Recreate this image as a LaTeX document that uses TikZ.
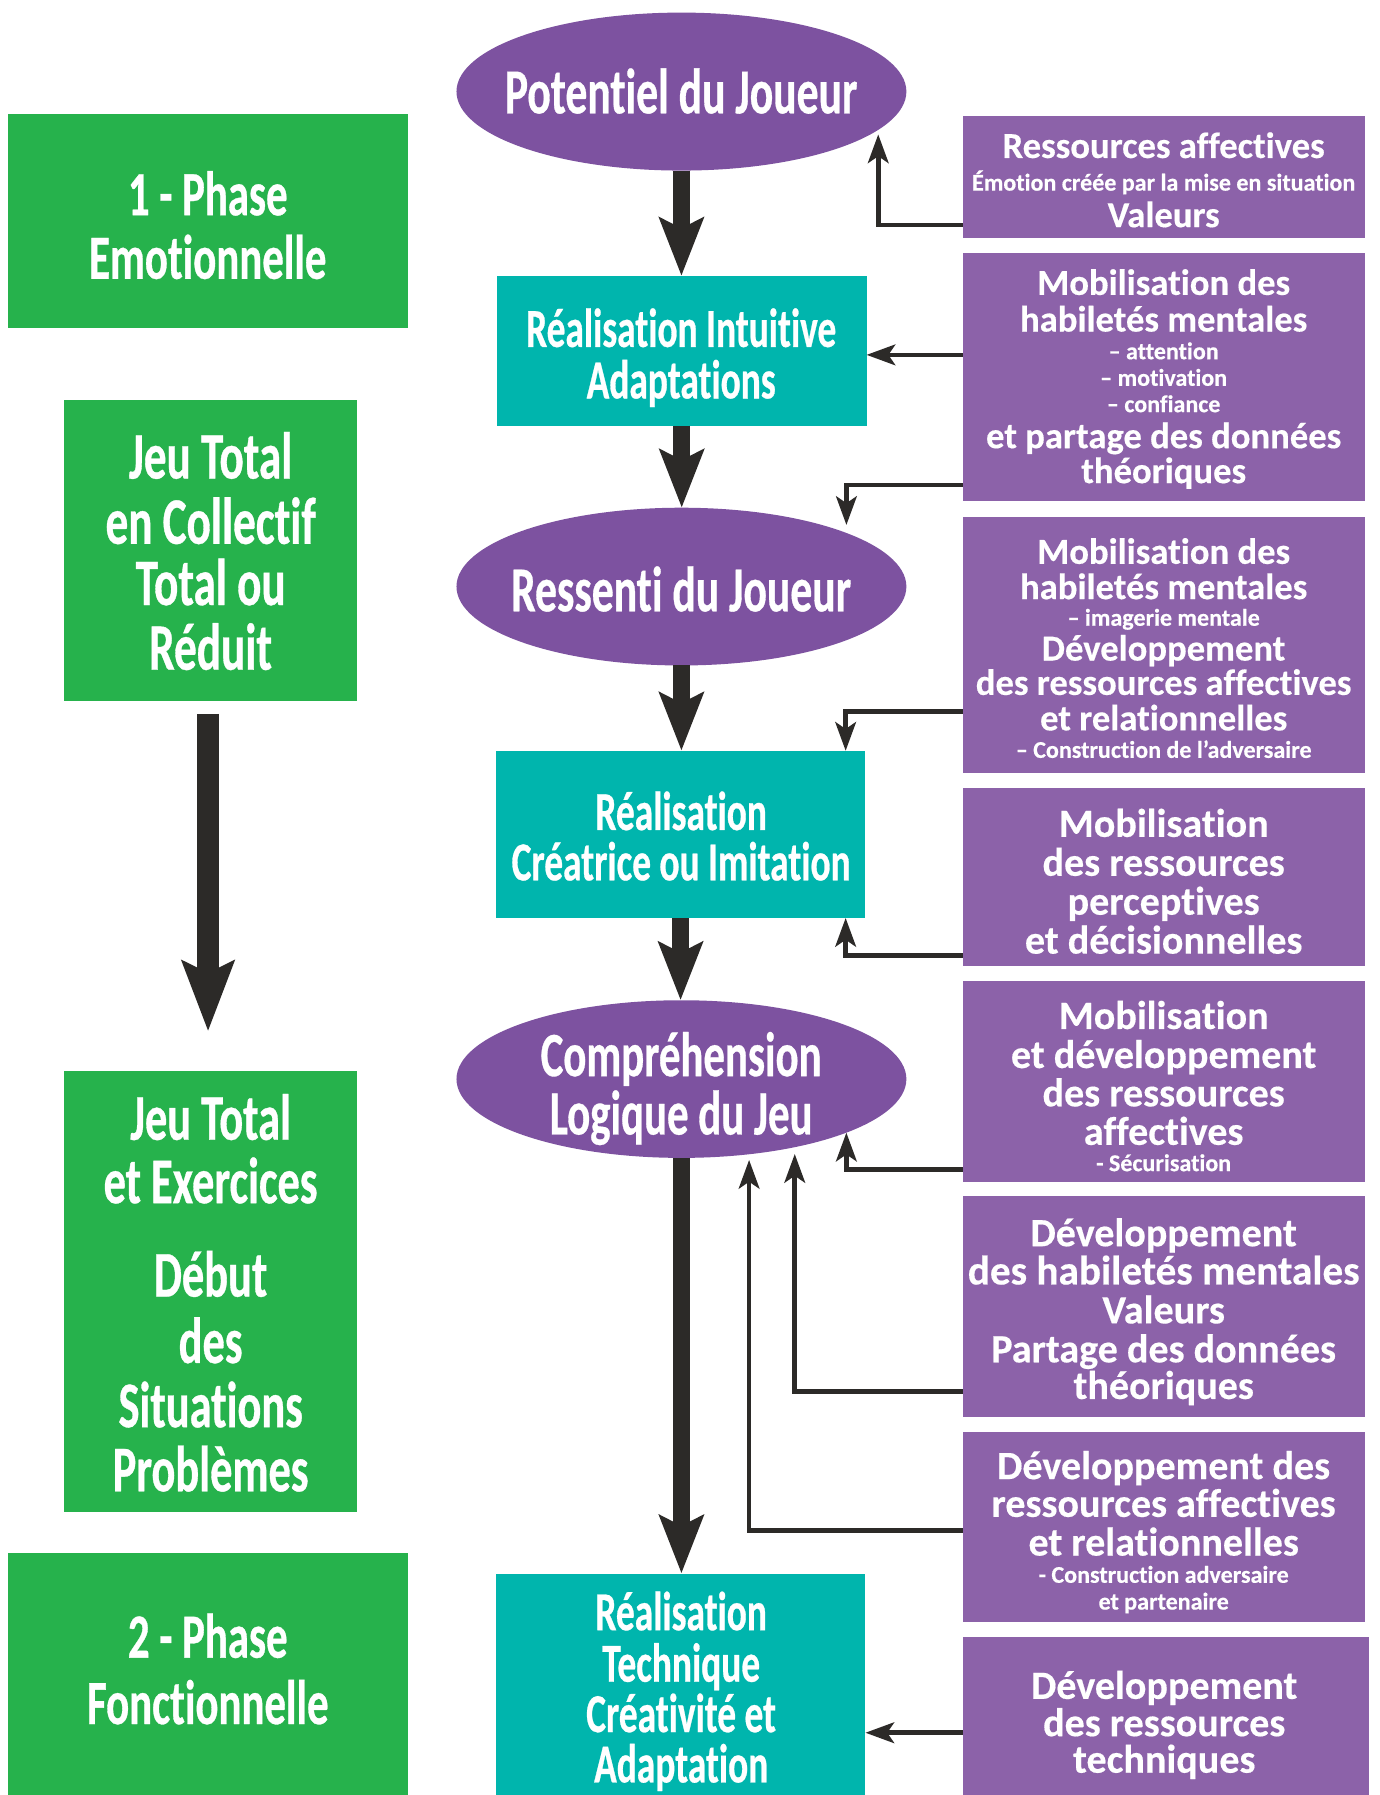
\documentclass[tikz,border=0pt]{standalone}
\usepackage{fontspec}
\setmainfont{Carlito}[Ligatures=CommonOff,FakeBold=0.4]
\newfontfamily\condf{Carlito}[FakeStretch=0.68,Ligatures=CommonOff,FakeBold=0.5]
\usetikzlibrary{arrows.meta,shapes.geometric}
\definecolor{gr}{HTML}{26B24C}
\definecolor{tl}{HTML}{00B5AD}
\definecolor{pu}{HTML}{8C62A9}
\definecolor{el}{HTML}{7D52A0}
\definecolor{dk}{HTML}{2C2A28}
\newcommand\fsz[1]{\fontsize{#1}{#1}\selectfont}
\begin{document}
\begin{tikzpicture}[x=1pt,y=-1pt,
  box/.style={rectangle, inner sep=0pt, outer sep=0pt, draw=none},
  gbox/.style={box, fill=gr},
  tbox/.style={box, fill=tl},
  pbox/.style={box, fill=pu},
  ebox/.style={ellipse, fill=el, draw=none, inner sep=0pt, outer sep=0pt},
  txt/.style={text=white, inner sep=0pt, outer sep=0pt, anchor=base},
  ctxt/.style={txt, font=\condf\bfseries\fsz{#1}},
  ptxt/.style={txt, font=\bfseries\fsz{#1}},
  mainarrow/.style={draw=dk, line width=14.5pt, -{Stealth[length=50.5pt,width=38pt,inset=9pt]}},
  leftarrow/.style={draw=dk, line width=19pt, -{Stealth[length=61pt,width=44.5pt,inset=10pt]}},
  side/.style={draw=dk, line width=4pt, line join=miter, -{Stealth[length=25pt,width=18pt,inset=6pt]}}
]
\useasboundingbox (0,0) rectangle (1205,1568);
\fill[white] (0,0) rectangle (1205,1568);

% green boxes
\node[gbox, minimum width=349pt, minimum height=187pt] (G1) at (181.5,193) {};
\node[gbox, minimum width=256pt, minimum height=262.4pt] (G2) at (184,480.8) {};
\node[gbox, minimum width=256pt, minimum height=385.7pt] (G3) at (184,1128.15) {};
\node[gbox, minimum width=349pt, minimum height=211.4pt] (G4) at (181.5,1462.3) {};

% ellipses
\node[ebox, minimum width=393pt, minimum height=138pt] (E1) at (595.25,80) {};
\node[ebox, minimum width=393pt, minimum height=137.8pt] (E2) at (595.25,512.4) {};
\node[ebox, minimum width=393pt, minimum height=137.7pt] (E3) at (595.25,942.6) {};

% teal boxes
\node[tbox, minimum width=323pt, minimum height=130.7pt] (T1) at (595.5,306.4) {};
\node[tbox, minimum width=323pt, minimum height=146.1pt] (T2) at (594.5,728.85) {};
\node[tbox, minimum width=323pt, minimum height=193.5pt] (T3) at (594.5,1471.25) {};

% purple boxes
\node[pbox, minimum width=351pt, minimum height=106.5pt] (P1) at (1016.5,154.55) {};
\node[pbox, minimum width=351pt, minimum height=217pt] (P2) at (1016.5,329.5) {};
\node[pbox, minimum width=351pt, minimum height=223.5pt] (P3) at (1016.5,563.25) {};
\node[pbox, minimum width=351pt, minimum height=156pt] (P4) at (1016.5,766) {};
\node[pbox, minimum width=351pt, minimum height=176.1pt] (P5) at (1016.5,944.65) {};
\node[pbox, minimum width=351pt, minimum height=193pt] (P6) at (1016.5,1141.5) {};
\node[pbox, minimum width=351pt, minimum height=165.9pt] (P7) at (1016.5,1333.65) {};
\node[pbox, minimum width=354.5pt, minimum height=138.3pt] (P8) at (1018.25,1498.85) {};

% green texts
\node[ctxt=55] (g1a) at (181.5,188) {1 - Phase};
\node[ctxt=55] (g1b) at (181.5,243.5) {Emotionnelle};
\node[ctxt=58] (g2a) at (184,418) {Jeu Total};
\node[ctxt=58] (g2b) at (184,475) {en Collectif};
\node[ctxt=58] (g2c) at (184,528.5) {Total ou};
\node[ctxt=58] (g2d) at (184,585) {Réduit};
\node[ctxt=57] (g3a) at (184,995.6) {Jeu Total};
\node[ctxt=57] (g3b) at (184,1051) {et Exercices};
\node[ctxt=57] (g3c) at (184,1132.6) {Début};
\node[ctxt=57] (g3d) at (184,1190.6) {des};
\node[ctxt=57] (g3e) at (184,1246.7) {Situations};
\node[ctxt=57] (g3f) at (184,1302.7) {Problèmes};
\node[ctxt=55] (g4a) at (181.5,1448) {2 - Phase};
\node[ctxt=55] (g4b) at (181.5,1506) {Fonctionnelle};

% centre texts
\node[ctxt=56] (e1a) at (595,99) {Potentiel du Joueur};
\node[ctxt=48] (t1a) at (595,303) {Réalisation Intuitive};
\node[ctxt=48] (t1b) at (595,348) {Adaptations};
\node[ctxt=56] (e2a) at (595,534) {Ressenti du Joueur};
\node[ctxt=48] (t2a) at (595,725) {Réalisation};
\node[ctxt=48] (t2b) at (595,769) {Créatrice ou Imitation};
\node[ctxt=55] (e3a) at (595,940) {Compréhension};
\node[ctxt=55] (e3b) at (595,991) {Logique du Jeu};
\node[ctxt=48] (t3a) at (595,1424) {Réalisation};
\node[ctxt=48] (t3b) at (595,1469) {Technique};
\node[ctxt=48] (t3c) at (595,1513) {Créativité et};
\node[ctxt=48] (t3d) at (595,1557) {Adaptation};

% purple texts
\node[ptxt=32] (p1a) at (1016.5,138) {Ressources affectives};
\node[ptxt=21] (p1b) at (1016.5,166.5) {Émotion créée par la mise en situation};
\node[ptxt=32] (p1c) at (1016.5,198.4) {Valeurs};

\node[ptxt=32] (p2a) at (1016.5,257.6) {Mobilisation des};
\node[ptxt=32] (p2b) at (1016.5,289.6) {habiletés mentales};
\node[ptxt=21] (p2c) at (1016.5,313.8) {– attention};
\node[ptxt=21] (p2d) at (1016.5,337) {– motivation};
\node[ptxt=21] (p2e) at (1016.5,360) {– confiance};
\node[ptxt=32] (p2f) at (1016.5,391.5) {et partage des données};
\node[ptxt=32] (p2g) at (1016.5,422) {théoriques};

\node[ptxt=32] (p3a) at (1016.5,492.5) {Mobilisation des};
\node[ptxt=32] (p3b) at (1016.5,523.3) {habiletés mentales};
\node[ptxt=21] (p3c) at (1016.5,546.6) {– imagerie mentale};
\node[ptxt=32] (p3d) at (1016.5,577) {Développement};
\node[ptxt=32] (p3e) at (1016.5,607) {des ressources affectives};
\node[ptxt=32] (p3f) at (1016.5,638) {et relationnelles};
\node[ptxt=21] (p3g) at (1016.5,662) {– Construction de l’adversaire};

\node[ptxt=35] (p4a) at (1016.5,731) {Mobilisation};
\node[ptxt=35] (p4b) at (1016.5,765) {des ressources};
\node[ptxt=35] (p4c) at (1016.5,799) {perceptives};
\node[ptxt=35] (p4d) at (1016.5,833) {et décisionnelles};

\node[ptxt=35] (p5a) at (1016.5,898.8) {Mobilisation};
\node[ptxt=35] (p5b) at (1016.5,932.9) {et développement};
\node[ptxt=35] (p5c) at (1016.5,966.4) {des ressources};
\node[ptxt=35] (p5d) at (1016.5,1000) {affectives};
\node[ptxt=21] (p5e) at (1016.5,1023) {- Sécurisation};

\node[ptxt=35] (p6a) at (1016.5,1088.6) {Développement};
\node[ptxt=36] (p6b) at (1016.5,1122) {des habiletés mentales};
\node[ptxt=35] (p6c) at (1016.5,1156) {Valeurs};
\node[ptxt=35] (p6d) at (1016.5,1190) {Partage des données};
\node[ptxt=35] (p6e) at (1016.5,1222) {théoriques};

\node[ptxt=35] (p7a) at (1016.5,1292) {Développement des};
\node[ptxt=35] (p7b) at (1016.5,1325) {ressources affectives};
\node[ptxt=35] (p7c) at (1016.5,1358.8) {et relationnelles};
\node[ptxt=21] (p7d) at (1016.5,1382.6) {- Construction adversaire};
\node[ptxt=21] (p7e) at (1016.5,1406) {et partenaire};

\node[ptxt=35] (p8a) at (1017,1484) {Développement};
\node[ptxt=35] (p8b) at (1017,1516.6) {des ressources};
\node[ptxt=35] (p8c) at (1017,1548.5) {techniques};

% main flow arrows
\draw[mainarrow] (E1.south) -- (E1.south |- T1.north);
\draw[mainarrow] (T1.south) -- (T1.south |- E2.north);
\draw[mainarrow] (E2.south) -- (E2.south |- T2.north);
\draw[mainarrow] (T2.south) -- (T2.south |- E3.north);
\draw[mainarrow] (E3.south) -- (E3.south |- T3.north);

% left arrow
\draw[leftarrow, shorten <=11.5pt, shorten >=34.3pt] ([xshift=-2.25pt]G2.south) -- ([xshift=-2.25pt]G3.north);

% side connectors
\draw[side, shorten >=4pt] (P1.west |- 0,196.5) -| (E1.-11.7);
\draw[side] (P2.west |- 0,310) -- (T1.east |- 0,310);
\draw[side, shorten >=7pt] (P2.west |- 0,423.5) -| (E2.18.2);
\draw[side] (P3.west |- 0,621.5) -| ([xshift=-17.3pt]T2.north east);
\draw[side] (P4.west |- 0,834.5) -| ([xshift=-17.3pt]T2.south east);
\draw[side] (P5.west |- 0,1021.6) -| (E3.-18.2);
\draw[side, shorten >=6pt] (P6.west |- 0,1215.4) -| (E3.-31.4);
\draw[side, shorten >=5pt] (P7.west |- 0,1336.7) -| (E3.-48.5);
\draw[side] (P8.west |- 0,1513.6) -- (T3.east |- 0,1513.6);
\end{tikzpicture}
\end{document}
